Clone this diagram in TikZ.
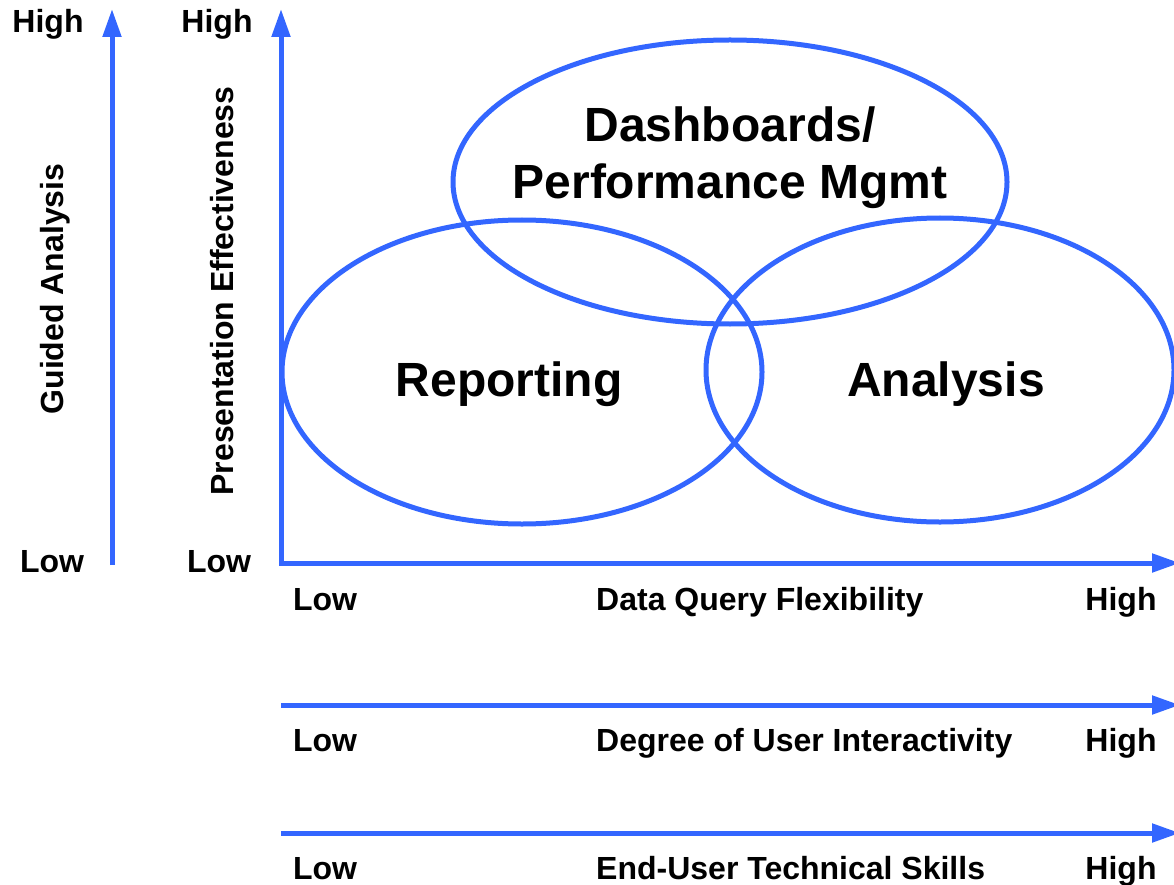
\documentclass[tikz,border=0pt]{standalone}
\usepackage{fontspec}
\setmainfont{Liberation Sans}
\usetikzlibrary{arrows.meta}
\definecolor{axblue}{HTML}{3366FF}
\tikzset{
  axis/.style={draw=axblue, line width=5pt, -{Triangle[length=28pt,width=18pt]}},
  oval/.style={draw=axblue, line width=5pt},
  lbl/.style={font=\fontsize{32}{34}\selectfont\bfseries, inner sep=0pt, anchor=base},
  rlbl/.style={font=\fontsize{32}{34}\selectfont\bfseries, inner sep=0pt, rotate=90},
  big/.style={font=\fontsize{48}{57}\selectfont\bfseries, inner sep=0pt, align=center},
}
\begin{document}
\begin{tikzpicture}[x=1pt,y=-1pt]
\useasboundingbox (0,0) rectangle (1174,885);
% ellipses
\draw[oval] (730,182) ellipse [x radius=277, y radius=142];
\draw[oval] (522,372) ellipse [x radius=240, y radius=152];
\draw[oval] (940,370) ellipse [x radius=234, y radius=152];
\node[big] (dash) at (730,158) {Dashboards/\\Performance Mgmt};
\node[big] (rep) at (509,384) {Reporting};
\node[big] (ana) at (946,384) {Analysis};
% coordinates
\coordinate (g0) at (112,565);
\coordinate (g1) at (112,9);
\coordinate (p0) at (281,565);
\coordinate (p1) at (281,9);
\coordinate (x0) at (279,563);
\coordinate (x1) at (1180,563);
\coordinate (u0) at (281,705);
\coordinate (u1) at (1180,705);
\coordinate (s0) at (281,833);
\coordinate (s1) at (1180,833);
\draw[axis] (g0) -- (g1);
\draw[axis] (p0) -- (p1);
\draw[axis] (x0) -- (x1);
\draw[axis] (u0) -- (u1);
\draw[axis] (s0) -- (s1);
% labels
\node[lbl] (gh) at (48,33) {High};
\node[lbl] (gl) at (52,572) {Low};
\node[lbl] (ph) at (217,33) {High};
\node[lbl] (pl) at (219,572) {Low};
\node[rlbl] (gt) at (55,289) {Guided Analysis};
\node[rlbl] (pt) at (222,291) {Presentation Effectiveness};
\node[lbl] (xl) at (325,610) {Low};
\node[lbl, anchor=base west] (xt) at (596,610) {Data Query Flexibility};
\node[lbl] (xh) at (1121,610) {High};
\node[lbl] (ul) at (325,751) {Low};
\node[lbl, anchor=base west] (ut) at (596,751) {Degree of User Interactivity};
\node[lbl] (uh) at (1121,751) {High};
\node[lbl] (sl) at (325,879) {Low};
\node[lbl, anchor=base west] (st) at (596,879) {End-User Technical Skills};
\node[lbl] (sh) at (1121,879) {High};
\end{tikzpicture}
\end{document}
